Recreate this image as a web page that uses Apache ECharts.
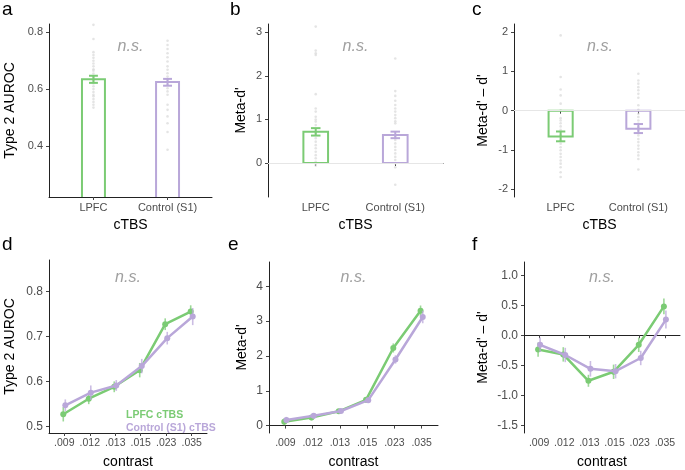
<!DOCTYPE html>
<html>
<head>
<meta charset="utf-8">
<script src="https://cdn.jsdelivr.net/npm/echarts@6/dist/echarts.min.js"></script>
<style>html,body{margin:0;padding:0;background:#fff}#c{width:685px;height:470px}</style>
</head>
<body>
<div id="c"></div>
<script>
// ---------------- data ----------------
const barCats = ['LPFC', 'Control (S1)'];
const contrastCats = ['.009', '.012', '.013', '.015', '.023', '.035'];
const seriesNames = ['LPFC cTBS', 'Control (S1) cTBS'];

// panel a: Type 2 AUROC
const aurocMean = [0.635, 0.625];
const aurocLo = [0.622, 0.612];
const aurocHi = [0.647, 0.636];
const aurocDotsLPFC = [0.826, 0.776, 0.73, 0.72, 0.71, 0.70, 0.69, 0.68, 0.67, 0.665, 0.655, 0.645, 0.64, 0.63, 0.62, 0.61, 0.60, 0.59, 0.58, 0.575, 0.565, 0.555, 0.545, 0.535];
const aurocDotsCtrl = [0.77, 0.755, 0.741, 0.726, 0.712, 0.697, 0.68, 0.668, 0.656, 0.644, 0.633, 0.615, 0.603, 0.592, 0.58, 0.545, 0.527, 0.504, 0.48, 0.449, 0.387];
const aurocTicks = [0.4, 0.6, 0.8];

// panel b: meta-d'
const metaMean = [0.72, 0.64];
const metaLo = [0.63, 0.57];
const metaHi = [0.80, 0.72];
const metaDotsLPFC = [3.13, 2.58, 2.52, 2.48, 1.58, 1.25, 1.18, 1.06, 1.0, 0.95, 0.87, 0.68, 0.57, 0.49, 0.41, 0.34, 0.26, 0.18, 0.11, 0.03, -0.02, -0.06];
const metaDotsCtrl = [2.4, 1.65, 1.54, 1.43, 1.33, 1.25, 1.18, 1.1, 1.03, 0.96, 0.91, 0.6, 0.53, 0.45, 0.37, 0.30, 0.22, 0.14, 0.07, -0.01, -0.1, -0.5];
const metaTicks = [0, 1, 2, 3];

// panel c: meta-d' - d'
const diffMean = [-0.66, -0.46];
const diffLo = [-0.78, -0.57];
const diffHi = [-0.53, -0.34];
const diffDotsLPFC = [1.92, 0.86, 0.54, 0.39, 0.18, 0.01, -0.19, -0.25, -0.32, -0.4, -0.49, -0.63, -0.76, -0.84, -0.93, -1.01, -1.1, -1.18, -1.27, -1.35, -1.44, -1.57, -1.69];
const diffDotsCtrl = [0.94, 0.77, 0.69, 0.6, 0.52, 0.43, 0.33, 0.14, 0.02, -0.08, -0.16, -0.25, -0.33, -0.42, -0.5, -0.63, -0.72, -0.8, -0.89, -0.97, -1.06, -1.14, -1.23, -1.5];
const diffTicks = [-2, -1, 0, 1, 2];

// panel d: Type 2 AUROC by contrast
const dLPFC = [0.527, 0.5615, 0.588, 0.625, 0.727, 0.755];
const dLPFCse = [0.016, 0.012, 0.012, 0.016, 0.013, 0.014];
const dCtrl = [0.547, 0.575, 0.591, 0.634, 0.696, 0.744];
const dCtrlse = [0.013, 0.016, 0.012, 0.016, 0.014, 0.019];
const dTicks = [0.5, 0.6, 0.7, 0.8];

// panel e: meta-d' by contrast
const eLPFC = [0.11, 0.23, 0.41, 0.74, 2.23, 3.30];
const eLPFCse = [0.10, 0.08, 0.06, 0.08, 0.13, 0.15];
const eCtrl = [0.16, 0.28, 0.42, 0.73, 1.90, 3.12];
const eCtrlse = [0.09, 0.08, 0.05, 0.08, 0.12, 0.18];
const eTicks = [0, 1, 2, 3, 4];

// panel f: meta-d' - d' by contrast
const fLPFC = [-0.24, -0.32, -0.76, -0.61, -0.16, 0.48];
const fLPFCse = [0.12, 0.12, 0.10, 0.12, 0.12, 0.13];
const fCtrl = [-0.16, -0.33, -0.56, -0.60, -0.38, 0.26];
const fCtrlse = [0.12, 0.12, 0.13, 0.12, 0.12, 0.15];
const fTicks = [-1.5, -1.0, -0.5, 0.0, 0.5, 1.0];

// ---------------- style ----------------
const GREEN = '#7bcb74';
const PURPLE = '#b9a7d9';
const FONT = '"Liberation Sans", Arial, Helvetica, sans-serif';
const BAR_W = 0.31;
const CAP_W = 0.12;
const DODGE = 0.04;

const grids = [
  {left: 49, top: 24, width: 163, height: 173},
  {left: 268, top: 24, width: 175, height: 173},
  {left: 514, top: 24, width: 172, height: 173},
  {left: 49, top: 260, width: 158, height: 177},
  {left: 269, top: 262, width: 169, height: 175},
  {left: 524, top: 262, width: 156, height: 175}
];

const yCfg = [
  {min: 0.2206, max: 0.829, ticks: aurocTicks, name: 'Type 2 AUROC', gap: 32, dec: 1},
  {min: -0.78, max: 3.19, ticks: metaTicks, name: "Meta-d'", gap: 20, dec: 0},
  {min: -2.2, max: 2.21, ticks: diffTicks, name: "Meta-d' \u2013 d'", gap: 24, dec: 0},
  {min: 0.4854, max: 0.8696, ticks: dTicks, name: 'Type 2 AUROC', gap: 32, dec: 1},
  {min: -0.213, max: 4.70, ticks: eTicks, name: "Meta-d'", gap: 20, dec: 0},
  {min: -1.63, max: 1.22, ticks: fTicks, name: "Meta-d' \u2013 d'", gap: 34, dec: 1}
];

const axisLineStyle = {lineStyle: {color: '#222', width: 1}};
const axisTickStyle = {show: true, length: 3, lineStyle: {color: '#444', width: 1}};

const xAxes = [], yAxes = [];
for (let i = 0; i < 6; i++) {
  const isBar = i < 3;
  const cats = isBar ? barCats : contrastCats;
  const catIdx = cats.map((c, k) => k + 1);
  xAxes.push({
    type: 'value', gridIndex: i,
    min: 0.4, max: cats.length + 0.6,
    name: isBar ? 'cTBS' : 'contrast',
    nameLocation: 'middle', nameGap: isBar ? 21 : 22,
    nameTextStyle: {fontFamily: FONT, fontSize: 14, color: '#000'},
    axisLine: axisLineStyle,
    axisTick: Object.assign({customValues: catIdx}, axisTickStyle),
    axisLabel: {customValues: catIdx, margin: 5, fontFamily: FONT,
      fontSize: isBar ? 11 : 10.5, color: '#4d4d4d',
      formatter: v => cats[Math.round(v) - 1]},
    splitLine: {show: false}
  });
  const yc = yCfg[i];
  yAxes.push({
    type: 'value', gridIndex: i, min: yc.min, max: yc.max,
    name: yc.name, nameLocation: 'middle', nameGap: yc.gap, nameRotate: 90,
    nameTextStyle: {fontFamily: FONT, fontSize: 14, color: '#000'},
    axisLine: {show: true, lineStyle: {color: '#222', width: 1}},
    axisTick: Object.assign({customValues: yc.ticks}, axisTickStyle),
    axisLabel: {customValues: yc.ticks, margin: 6, fontFamily: FONT,
      fontSize: isBar ? 11 : 12, color: '#4d4d4d',
      formatter: v => v.toFixed(yc.dec)},
    splitLine: {show: false}
  });
}

// ---------------- render helpers ----------------
function barRender(params, api) {
  const x = api.value(0), y = api.value(1);
  const cs = params.coordSys;
  const pTop = api.coord([x - BAR_W / 2, y]);
  const pBase = api.coord([x + BAR_W / 2, 0]);
  const x1 = pTop[0], x2 = pBase[0];
  const yTop = pTop[1];
  let yBase = pBase[1];
  const yMinPix = cs.y, yMaxPix = cs.y + cs.height;
  const clipped = yBase > yMaxPix || yBase < yMinPix;
  yBase = Math.max(yMinPix, Math.min(yMaxPix, yBase));
  const pts = [[x1, yBase], [x1, yTop], [x2, yTop], [x2, yBase]];
  const style = {fill: 'none', stroke: api.visual('color'), lineWidth: 2};
  if (clipped) return {type: 'polyline', shape: {points: pts}, style: style};
  return {type: 'polygon', shape: {points: pts}, style: style};
}

function errRender(capW, lw, opacity) {
  return function (params, api) {
    const x = api.value(0), lo = api.value(1), hi = api.value(2);
    const pl = api.coord([x, lo]), ph = api.coord([x, hi]);
    const color = api.visual('color');
    const children = [{type: 'line', shape: {x1: pl[0], y1: pl[1], x2: ph[0], y2: ph[1]},
      style: {stroke: color, lineWidth: lw, opacity: opacity}}];
    if (capW > 0) {
      const a = api.coord([x - capW / 2, lo]), b = api.coord([x + capW / 2, hi]);
      children.push({type: 'line', shape: {x1: a[0], y1: pl[1], x2: b[0], y2: pl[1]}, style: {stroke: color, lineWidth: lw}});
      children.push({type: 'line', shape: {x1: a[0], y1: ph[1], x2: b[0], y2: ph[1]}, style: {stroke: color, lineWidth: lw}});
    }
    return {type: 'group', children: children};
  };
}

const series = [];
function addBarPanel(gi, mean, lo, hi, dotsL, dotsC, zeroLine) {
  const dots = [dotsL, dotsC];
  const cols = [GREEN, PURPLE];
  for (let g = 0; g < 2; g++) {
    const s = {
      type: 'scatter', xAxisIndex: gi, yAxisIndex: gi, silent: true,
      symbolSize: 2.6, itemStyle: {color: '#d2d2d2', opacity: 0.6}, z: 1,
      data: dots[g].map(v => [g + 1, v])
    };
    if (zeroLine && g === 0) {
      s.markLine = {silent: true, symbol: 'none', label: {show: false},
        lineStyle: {color: '#e6e6e6', width: 1, type: 'solid', opacity: 1}, data: [{yAxis: 0}]};
    }
    series.push(s);
    series.push({
      type: 'custom', name: barCats[g] + '_bar' + gi, xAxisIndex: gi, yAxisIndex: gi, z: 3,
      itemStyle: {color: cols[g]}, renderItem: barRender, data: [[g + 1, mean[g]]]
    });
    series.push({
      type: 'custom', name: barCats[g] + '_err' + gi, xAxisIndex: gi, yAxisIndex: gi, z: 4,
      itemStyle: {color: cols[g]}, renderItem: errRender(CAP_W, 2, 1), data: [[g + 1, lo[g], hi[g]]]
    });
  }
}
addBarPanel(0, aurocMean, aurocLo, aurocHi, aurocDotsLPFC, aurocDotsCtrl, false);
addBarPanel(1, metaMean, metaLo, metaHi, metaDotsLPFC, metaDotsCtrl, true);
addBarPanel(2, diffMean, diffLo, diffHi, diffDotsLPFC, diffDotsCtrl, true);

function addLinePanel(gi, lpfc, lpfcSe, ctrl, ctrlSe) {
  const groups = [[lpfc, lpfcSe, GREEN, -DODGE], [ctrl, ctrlSe, PURPLE, DODGE]];
  groups.forEach((g, k) => {
    const [m, se, col, dx] = g;
    series.push({
      type: 'custom', name: seriesNames[k], xAxisIndex: gi, yAxisIndex: gi, z: 3 + k * 2,
      itemStyle: {color: col}, renderItem: errRender(0, 1.6, 0.75),
      data: m.map((v, i) => [i + 1 + dx, v - se[i], v + se[i]])
    });
    series.push({
      type: 'line', name: seriesNames[k], xAxisIndex: gi, yAxisIndex: gi, z: 4 + k * 2,
      symbol: 'circle', symbolSize: 6, showSymbol: true, silent: true,
      itemStyle: {color: col}, lineStyle: {color: col, width: 2.5},
      data: m.map((v, i) => [i + 1 + dx, v])
    });
  });
}
addLinePanel(3, dLPFC, dLPFCse, dCtrl, dCtrlse);
addLinePanel(4, eLPFC, eLPFCse, eCtrl, eCtrlse);
addLinePanel(5, fLPFC, fLPFCse, fCtrl, fCtrlse);

// ---------------- annotations ----------------
const letters = [['a', 2, 0], ['b', 230, 0], ['c', 472, 0], ['d', 2, 235], ['e', 228, 235], ['f', 472, 235]];
const graphics = letters.map(l => ({type: 'text', left: l[1], top: l[2],
  style: {text: l[0], fontFamily: FONT, fontSize: 19, fill: '#000'}}));
grids.forEach((g, i) => {
  graphics.push({type: 'text', x: g.left + g.width / 2, y: i < 3 ? 47 : 278,
    style: {text: 'n.s.', fontFamily: FONT, fontSize: 16, fontStyle: 'italic', fill: '#a0a0a0',
      align: 'center', verticalAlign: 'middle'}});
});

const chart = echarts.init(document.getElementById('c'), null, {renderer: 'canvas'});
chart.setOption({
  animation: false,
  backgroundColor: '#fff',
  grid: grids,
  xAxis: xAxes,
  yAxis: yAxes,
  legend: {
    left: 121, top: 410, orient: 'vertical', icon: 'none', itemWidth: 0, itemHeight: 10,
    itemGap: 2, padding: 0, selectedMode: false,
    textStyle: {fontFamily: FONT, fontSize: 10.5, fontWeight: 'bold'},
    data: [
      {name: seriesNames[0], textStyle: {color: GREEN}},
      {name: seriesNames[1], textStyle: {color: PURPLE}}
    ]
  },
  graphic: graphics,
  series: series
});
</script>
</body>
</html>
